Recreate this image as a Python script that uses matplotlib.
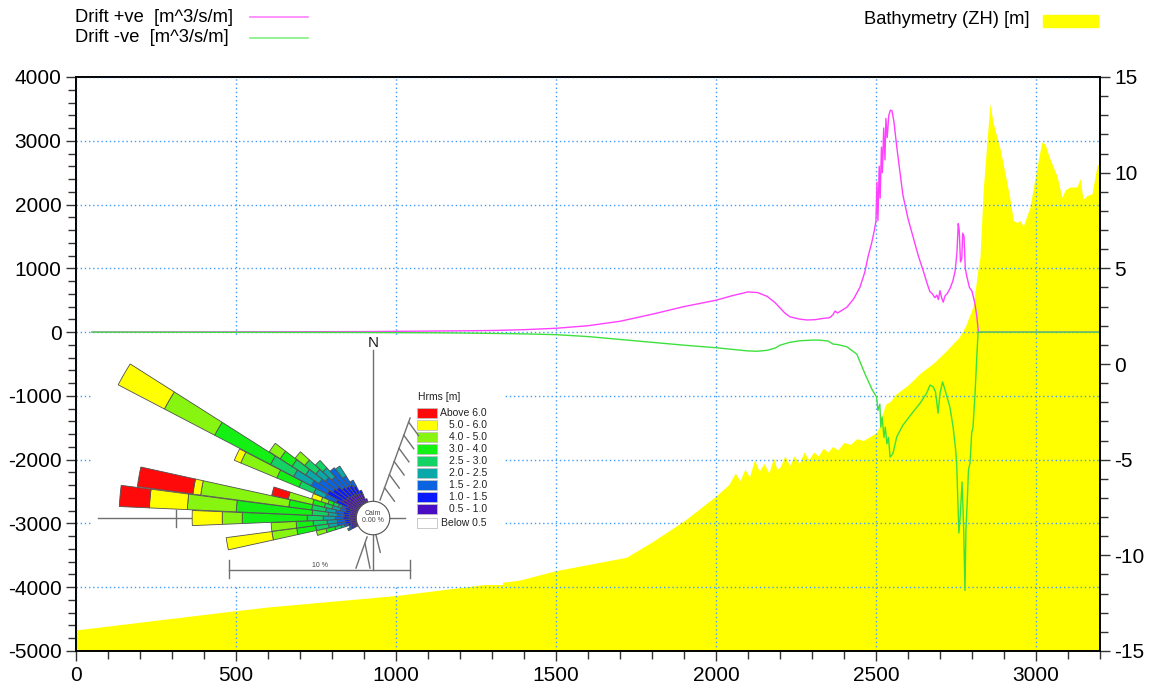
import matplotlib
matplotlib.use("Agg")
import matplotlib.pyplot as plt
from matplotlib.patches import Wedge, Circle, Rectangle
from matplotlib.lines import Line2D
from matplotlib.ticker import MultipleLocator

plt.rcParams['font.family'] = ['Liberation Sans', 'DejaVu Sans']
plt.rcParams['axes.unicode_minus'] = False

# ---- drift profiles (left axis, m^3/s/m) ----
pos_x = [50, 300, 600, 900, 1000, 1100, 1200, 1300, 1400, 1500, 1600, 1700, 1800, 1900,
         2000, 2050, 2100, 2130, 2160, 2185, 2200, 2215, 2231, 2260, 2284, 2310, 2334, 2355,
         2365, 2372, 2380, 2409, 2430, 2450, 2465, 2475, 2487, 2495, 2500, 2503, 2506, 2510,
         2513, 2517, 2520, 2524, 2528, 2531, 2535, 2540, 2545, 2550, 2556, 2565, 2584, 2600,
         2616, 2632, 2647, 2660, 2668, 2676, 2684, 2690, 2695, 2700, 2705, 2710, 2716, 2722,
         2731, 2740, 2747, 2753, 2757, 2760, 2764, 2768, 2771, 2775, 2779, 2784, 2792, 2800,
         2809, 2815, 2820, 3200]
pos_y = [0, 2, 5, 8, 12, 16, 20, 25, 38, 60, 100, 170, 280, 400,
         500, 570, 630, 620, 560, 460, 380, 300, 240, 205, 190, 195, 215, 225,
         270, 330, 300, 390, 520, 705, 940, 1180, 1410, 1600, 1750, 2350, 1750, 2600,
         2100, 2900, 2500, 3200, 2700, 3350, 3050, 3400, 3480, 3470, 3300, 2900, 2150, 1780,
         1490, 1200, 970, 760, 640, 600, 540, 580, 510, 650, 540, 470, 570, 600,
         680, 800, 950, 1250, 1700, 1600, 1100, 1150, 1550, 1500, 1000, 870, 700, 640,
         450, 250, 0, 0]

neg_x = [50, 300, 600, 900, 1000, 1100, 1200, 1300, 1400, 1500, 1600, 1700, 1800, 1900,
         2000, 2050, 2100, 2130, 2160, 2185, 2200, 2231, 2262, 2300, 2325, 2350, 2366, 2380,
         2409, 2440, 2466, 2487, 2502, 2506, 2512, 2515, 2519, 2525, 2529, 2534, 2539, 2544,
         2549, 2553, 2565, 2584, 2616, 2637, 2658, 2669, 2679, 2686, 2694, 2700, 2708, 2716,
         2722, 2731, 2741, 2749, 2752, 2759, 2763, 2769, 2774, 2778, 2781, 2785, 2789, 2794,
         2799, 2803, 2809, 2815, 2819, 3200]
neg_y = [0, -2, -4, -6, -8, -10, -14, -20, -28, -40, -70, -115, -160, -205,
         -245, -270, -295, -300, -285, -250, -205, -160, -136, -125, -126, -140, -188, -195,
         -230, -345, -660, -893, -1020, -1230, -1130, -1490, -1330, -1650, -1490, -1750, -1650, -1960,
         -1930, -1900, -1640, -1460, -1250, -1120, -960, -830, -860, -940, -1270, -960, -780, -910,
         -1020, -1175, -1490, -1850, -2050, -3150, -2900, -2350, -3100, -4050, -3100, -2680, -2160, -2050,
         -1580, -1500, -1010, -390, 0, 0]

# ---- bathymetry (right axis, m) ----
bath_x = [0, 470, 600, 1000, 1384, 1500, 1720, 1800, 1900, 2000, 2040, 2060, 2075, 2090, 2105,
          2120, 2135, 2150, 2165, 2180, 2190, 2200, 2215, 2230, 2245, 2260, 2275, 2290, 2305,
          2320, 2335, 2350, 2365, 2380, 2400, 2420, 2440, 2460, 2480, 2500, 2510, 2520, 2530,
          2545, 2560, 2600, 2640, 2680, 2720, 2760, 2780, 2803, 2819, 2825, 2835, 2847, 2856,
          2866, 2887, 2903, 2919, 2929, 2940, 2950, 2960, 2981, 3003, 3018, 3028, 3044, 3066,
          3081, 3091, 3106, 3128, 3138, 3147, 3159, 3175, 3191, 3200]
bath_y = [-13.9, -12.95, -12.7, -12.1, -11.3, -10.8, -10.1, -9.3, -8.2, -6.9, -6.3, -5.7, -6.1, -5.5, -5.9,
          -5.0, -5.6, -5.2, -5.7, -4.9, -5.5, -5.4, -4.8, -5.3, -4.8, -5.2, -4.6, -5.0, -4.6,
          -4.8, -4.4, -4.6, -4.3, -4.5, -4.1, -4.2, -3.9, -4.0, -3.8, -3.6, -3.3, -2.6, -2.1,
          -1.95, -1.6, -1.1, -0.45, 0.05, 0.7, 1.4, 2.0, 3.0, 5.0, 5.6, 9.1, 11.7, 13.6,
          12.6, 11.3, 10.0, 8.6, 7.5, 7.4, 7.5, 7.2, 8.2, 10.3, 11.6, 11.5, 10.7, 9.8,
          8.7, 9.1, 9.25, 9.25, 9.7, 8.6, 8.8, 8.9, 10.4, 10.5]

# ---- wave rose (percent per Hrms class, inner class first) ----
rose_classes = ['0.5 - 1.0', '1.0 - 1.5', '1.5 - 2.0', '2.0 - 2.5', '2.5 - 3.0',
                '3.0 - 4.0', '4.0 - 5.0', '5.0 - 6.0', 'Above 6.0']
rose_colors = ['#4a0dc4', '#0a1aff', '#0a64e0', '#0aa8a8', '#14d264',
               '#14f014', '#88f510', '#ffff00', '#ff0a0a']
rose_dirs = [245, 250, 255, 260, 265, 270, 275, 280, 285, 290, 295, 300, 305, 310, 315, 320, 325, 330, 335, 340]
rose_freq = [
    [0.25, 0.15, 0.1, 0.1, 0, 0, 0, 0, 0],
    [0.2, 0.15, 0.1, 0, 0, 0, 0, 0, 0],
    [0.3, 0.2, 0.2, 0.2, 0.35, 0.5, 0.55, 0, 0],
    [0.3, 0.33, 0.44, 0.5, 0.72, 1.06, 1.39, 2.56, 0],
    [0.3, 0.33, 0.44, 0.56, 0.78, 0.94, 1.39, 0, 0],
    [0.4, 0.33, 0.44, 0.67, 0.89, 3.61, 1.11, 1.67, 0],
    [0.35, 0.33, 0.39, 0.5, 0.89, 4.22, 2.72, 2.11, 1.67],
    [0.4, 0.33, 0.44, 0.56, 0.78, 1.28, 4.94, 0.44, 3.11],
    [0.3, 0.33, 0.33, 0.44, 0.44, 0.67, 1.39, 0, 0.94],
    [0.4, 0.3, 0.2, 0.2, 0.3, 0.3, 0.4, 0.55, 0],
    [0.63, 0.67, 0.67, 0.67, 0.89, 1.33, 2.17, 0.39, 0],
    [1.0, 0.95, 1.0, 1.1, 1.45, 3.5, 3.15, 2.9, 0],
    [0.85, 0.89, 0.89, 0.89, 0.89, 0.78, 0.72, 0, 0],
    [0.85, 0.78, 0.78, 0.67, 0.78, 0, 0.67, 0, 0],
    [0.74, 0.67, 0.78, 0.67, 0.56, 0, 0, 0, 0],
    [0.7, 0.6, 1.3, 0, 0, 0, 0, 0, 0],
    [0.65, 0.6, 0.6, 0.65, 0, 0, 0, 0, 0],
    [0.6, 0.5, 0.35, 0, 0, 0, 0, 0, 0],
    [0.5, 0.25, 0, 0, 0, 0, 0, 0, 0],
    [0.2, 0, 0, 0, 0, 0, 0, 0, 0],
]

W, H = 1150, 689
fig = plt.figure(figsize=(W / 100, H / 100), dpi=100)
ax = fig.add_axes([76 / W, 38 / H, 1024 / W, 574 / H])
ax2 = ax.twinx()

ax2.fill_between(bath_x, bath_y, -15, color='#ffff00', lw=0)
ax2.set_ylim(-15, 15)
ax.set_zorder(ax2.get_zorder() + 1)
ax.patch.set_visible(False)

grid_kw = dict(color='#3d9bff', lw=1.0, ls=(0, (1, 2)))
ax.grid(True, which='major', **grid_kw)
ax.plot(pos_x, pos_y, color='#ff40ff', lw=1.0)
ax.plot(neg_x, neg_y, color='#3ee03e', lw=1.0)

ax.set_xlim(0, 3200)
ax.set_ylim(-5000, 4000)
ax.xaxis.set_major_locator(MultipleLocator(500))
ax.xaxis.set_minor_locator(MultipleLocator(100))
ax.yaxis.set_major_locator(MultipleLocator(1000))
ax.yaxis.set_minor_locator(MultipleLocator(200))
ax2.yaxis.set_major_locator(MultipleLocator(5))
ax2.yaxis.set_minor_locator(MultipleLocator(1))
for a in (ax, ax2):
    a.tick_params(which='major', direction='out', length=7, width=1, labelsize=15, color='#333333')
    a.tick_params(which='minor', direction='out', length=6, width=1, color='#333333')
    for s in a.spines.values():
        s.set_linewidth(1.2)

# ---- top legend ----
leg_font = ['Liberation Sans Narrow', 'Liberation Sans']
fig.text(75 / W, 1 - 17 / H, 'Drift +ve  [m^3/s/m]', fontsize=13.2, va='center', ha='left', family=leg_font)
fig.text(75 / W, 1 - 38 / H, 'Drift -ve  [m^3/s/m]', fontsize=13.2, va='center', ha='left', family=leg_font)
fig.add_artist(Line2D([250 / W, 308 / W], [1 - 17 / H, 1 - 17 / H], color='#ff80ff', lw=1.2))
fig.add_artist(Line2D([250 / W, 308 / W], [1 - 38 / H, 1 - 38 / H], color='#80f080', lw=1.2))
fig.text(1030 / W, 1 - 20 / H, 'Bathymetry (ZH) [m]', fontsize=13.2, va='center', ha='right', family=leg_font)
fig.add_artist(Rectangle((1043 / W, 1 - 27 / H), 55 / W, 12 / H, color='#ffff00',
                         transform=fig.transFigure))

# ---- wave rose inset ----
ins = fig.add_axes([93 / W, 104 / H, 410 / W, 248 / H])
ins.set_zorder(ax.get_zorder() + 1)
ins.set_facecolor('white')
ins.set_xticks([])
ins.set_yticks([])
for s in ins.spines.values():
    s.set_visible(False)
ins.set_xlim(-15.56, 7.22)
ins.set_ylim(-3.72, 10.06)

r0 = 0.93
half = 2.4
for d, freqs in zip(rose_dirs, rose_freq):
    th = 90 - d
    r = r0
    for f, c in zip(freqs, rose_colors):
        if f <= 0:
            continue
        ins.add_patch(Wedge((0, 0), r + f, th - half, th + half, width=f, facecolor=c,
                            edgecolor='#505050', lw=0.6, zorder=3))
        r += f

ins.plot([0, 0], [-2.9, 9.33], color='#707070', lw=1, zorder=2)
ins.plot([-15.28, 1.78], [0, 0], color='#707070', lw=1, zorder=2)
ins.plot([-r0 - 10, -r0 - 10], [-0.5, 0.45], color='#707070', lw=1, zorder=2)
ins.add_patch(Circle((0, 0), r0, facecolor='white', edgecolor='#505050', lw=0.8, zorder=5))
ins.text(0, 0.05, 'Calm\n0.00 %', fontsize=5, ha='center', va='center', color='#444444',
         zorder=6, linespacing=1.1)
ins.text(0, 9.72, 'N', fontsize=11, ha='center', va='center', color='#222222')

# coastline with hatching
ins.plot([0.39, 2.06], [1.0, 5.56], color='#707070', lw=1, zorder=2)
for k in range(6):
    t = 0.15 + k * 0.16
    px = 0.39 + t * (2.06 - 0.39)
    py = 1.0 + t * (5.56 - 1.0)
    ins.plot([px, px + 0.55], [py, py - 0.75], color='#707070', lw=1, zorder=2)
ins.plot([-0.33, -0.95], [-1.05, -2.78], color='#707070', lw=1, zorder=2)
ins.plot([-0.45, -0.17], [-1.4, -2.78], color='#707070', lw=1, zorder=2)
ins.plot([0.15, 0.4], [-0.9, -1.9], color='#707070', lw=1, zorder=2)

# scale bar
ins.plot([-8.0, 2.06], [-2.89, -2.89], color='#707070', lw=1)
ins.plot([-8.0, -8.0], [-2.33, -3.33], color='#707070', lw=1)
ins.plot([2.06, 2.06], [-2.33, -3.33], color='#707070', lw=1)
ins.text(-2.97, -2.62, '10 %', fontsize=5, ha='center', va='center', color='#444444')

# rose legend
ins.text(2.5, 6.72, 'Hrms [m]', fontsize=7.5, ha='left', va='center', color='#222222')
legend_rows = list(zip(rose_classes, rose_colors))[::-1] + [('Below 0.5', 'white')]
for i, (lab, col) in enumerate(legend_rows):
    yc = 5.85 - 0.667 * i - (0.1 if i == 9 else 0)
    ins.add_patch(Rectangle((2.44, yc - 0.28), 1.11, 0.56, facecolor=col, edgecolor='#c0c0c0', lw=0.6))
    ins.text(6.33, yc, lab, fontsize=7.5, ha='right', va='center', color='#222222')

fig.savefig('out.png', dpi=100)
